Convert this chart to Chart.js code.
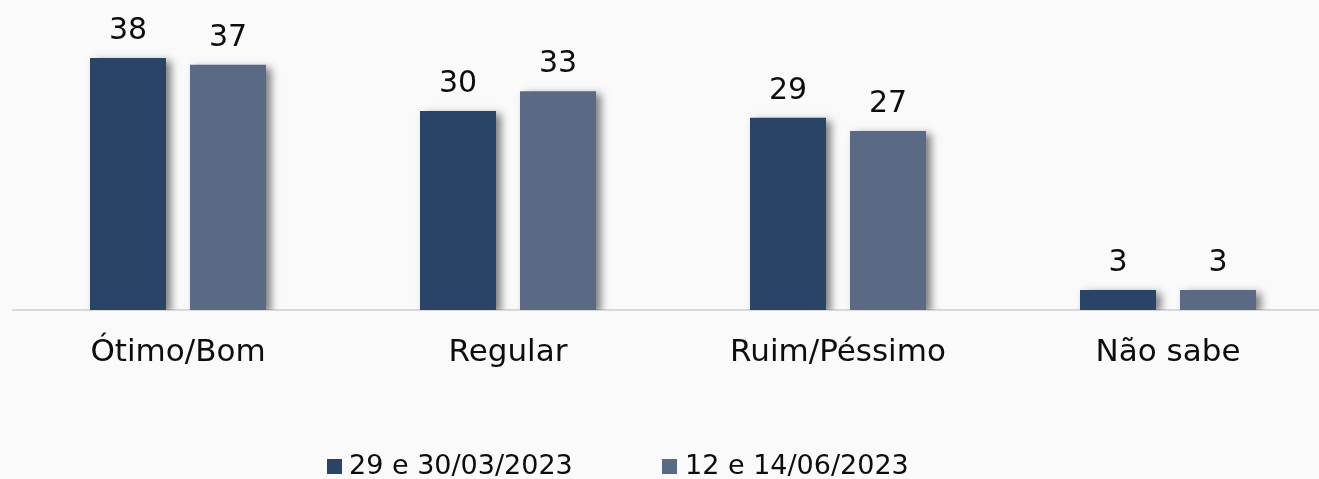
<!DOCTYPE html>
<html>
<head>
<meta charset="utf-8">
<script src="https://cdn.jsdelivr.net/npm/chart.js@4/dist/chart.umd.min.js"></script>
<style>
  html, body { margin: 0; padding: 0; overflow: hidden; background: #fafafa; }
  #wrap { width: 1336px; height: 479px; }
</style>
</head>
<body>
<div id="wrap"><canvas id="c" width="1336" height="479"></canvas></div>
<script>
const categories = ['Ótimo/Bom', 'Regular', 'Ruim/Péssimo', 'Não sabe'];
const seriesLabels = ['29 e 30/03/2023', '12 e 14/06/2023'];
const seriesMarch = [38, 30, 29, 3];
const seriesJune = [37, 33, 27, 3];
const seriesColors = ['#2a4467', '#5a6a85'];

const FONT = '"DejaVu Sans", sans-serif';

const shadowPlugin = {
  id: 'barShadow',
  beforeDatasetsDraw(chart) {
    const ctx = chart.ctx;
    ctx.save();
    ctx.shadowColor = 'rgba(0,0,0,0.5)';
    ctx.shadowBlur = 8;
    ctx.shadowOffsetX = 5;
    ctx.shadowOffsetY = 3;
  },
  afterDatasetsDraw(chart) {
    chart.ctx.restore();
  }
};

const valueLabelPlugin = {
  id: 'valueLabels',
  afterDatasetsDraw(chart) {
    const ctx = chart.ctx;
    ctx.save();
    ctx.font = '30px ' + FONT;
    ctx.fillStyle = '#0d0d0d';
    ctx.textAlign = 'center';
    ctx.textBaseline = 'alphabetic';
    chart.data.datasets.forEach((ds, i) => {
      const meta = chart.getDatasetMeta(i);
      meta.data.forEach((bar, j) => {
        ctx.fillText(String(ds.data[j]), bar.x, bar.y - 19);
      });
    });
    ctx.restore();
  }
};

const legendPlugin = {
  id: 'customLegend',
  afterDraw(chart) {
    const ctx = chart.ctx;
    const boxX = [327, 662];
    const textX = [349, 685];
    ctx.save();
    ctx.font = '27px ' + FONT;
    ctx.textBaseline = 'alphabetic';
    ctx.textAlign = 'left';
    chart.data.datasets.forEach((ds, i) => {
      ctx.fillStyle = ds.backgroundColor;
      ctx.fillRect(boxX[i], 459, 15, 15);
      ctx.fillStyle = '#0d0d0d';
      ctx.fillText(ds.label, textX[i], 474);
    });
    ctx.restore();
  }
};

new Chart(document.getElementById('c'), {
  type: 'bar',
  data: {
    labels: categories,
    datasets: [
      { label: seriesLabels[0], data: seriesMarch, backgroundColor: seriesColors[0] },
      { label: seriesLabels[1], data: seriesJune, backgroundColor: seriesColors[1] }
    ]
  },
  options: {
    responsive: false,
    animation: false,
    devicePixelRatio: 1,
    layout: { padding: { top: 5, left: 13, right: 3, bottom: 0 } },
    datasets: {
      bar: { barPercentage: 0.76, categoryPercentage: 200 / 330 }
    },
    plugins: {
      legend: { display: false },
      tooltip: { enabled: false }
    },
    scales: {
      y: { display: false, min: 0, max: 46 },
      x: {
        grid: { display: false, drawTicks: false },
        border: { display: true, color: '#d9d9d9', width: 2 },
        ticks: { color: '#0d0d0d', font: { family: FONT, size: 31 }, padding: 24 },
        afterFit(scale) { scale.height = 169; }
      }
    }
  },
  plugins: [shadowPlugin, valueLabelPlugin, legendPlugin]
});
</script>
</body>
</html>
